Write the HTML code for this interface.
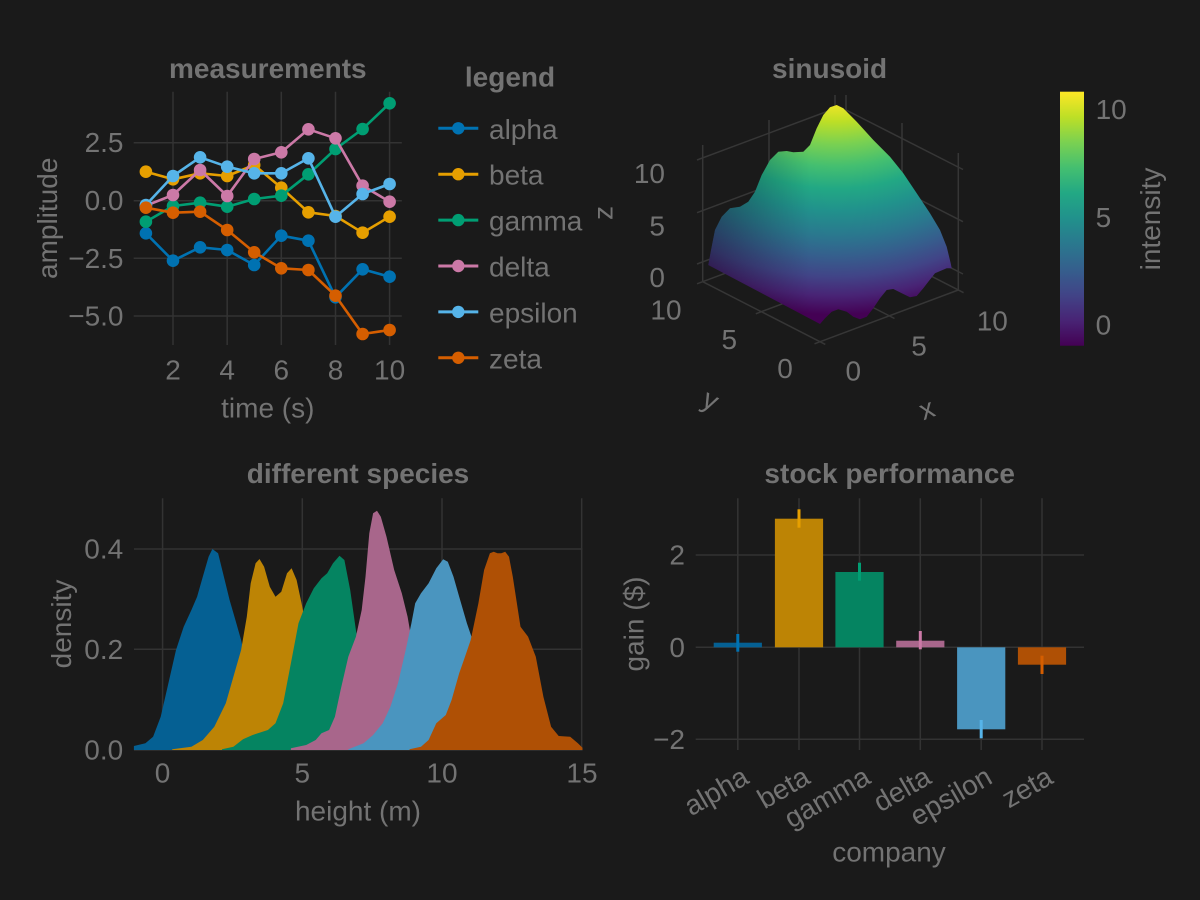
<!DOCTYPE html>
<html><head><meta charset="utf-8"><style>
html,body{margin:0;padding:0;background:#1a1a1a;}
svg{display:block}
text{font-family:"Liberation Sans",sans-serif;fill:#737373;font-size:28px}
.t{font-weight:bold}
</style></head><body>
<svg width="1200" height="900" viewBox="0 0 1200 900" xmlns="http://www.w3.org/2000/svg">
<defs>
<marker id="mb" markerUnits="userSpaceOnUse" markerWidth="14" markerHeight="14" refX="7" refY="7" viewBox="0 0 14 14"><circle cx="7" cy="7" r="6.3" fill="#0072B2"/></marker>
<marker id="mo" markerUnits="userSpaceOnUse" markerWidth="14" markerHeight="14" refX="7" refY="7" viewBox="0 0 14 14"><circle cx="7" cy="7" r="6.3" fill="#E69F00"/></marker>
<marker id="mg" markerUnits="userSpaceOnUse" markerWidth="14" markerHeight="14" refX="7" refY="7" viewBox="0 0 14 14"><circle cx="7" cy="7" r="6.3" fill="#009E73"/></marker>
<marker id="mp" markerUnits="userSpaceOnUse" markerWidth="14" markerHeight="14" refX="7" refY="7" viewBox="0 0 14 14"><circle cx="7" cy="7" r="6.3" fill="#CC79A7"/></marker>
<marker id="ms" markerUnits="userSpaceOnUse" markerWidth="14" markerHeight="14" refX="7" refY="7" viewBox="0 0 14 14"><circle cx="7" cy="7" r="6.3" fill="#56B4E9"/></marker>
<marker id="mv" markerUnits="userSpaceOnUse" markerWidth="14" markerHeight="14" refX="7" refY="7" viewBox="0 0 14 14"><circle cx="7" cy="7" r="6.3" fill="#D55E00"/></marker>
<radialGradient id="sg" gradientUnits="userSpaceOnUse" cx="835" cy="-20" r="345" fx="835" fy="-20">
<stop offset="0.345" stop-color="#fde725"/>
<stop offset="0.41" stop-color="#bddf26"/>
<stop offset="0.475" stop-color="#7ad151"/>
<stop offset="0.54" stop-color="#44bf70"/>
<stop offset="0.605" stop-color="#22a884"/>
<stop offset="0.67" stop-color="#21918c"/>
<stop offset="0.74" stop-color="#2a788e"/>
<stop offset="0.8" stop-color="#355f8d"/>
<stop offset="0.86" stop-color="#414487"/>
<stop offset="0.915" stop-color="#482475"/>
<stop offset="0.97" stop-color="#440154"/>
</radialGradient>
<linearGradient id="shade" gradientUnits="userSpaceOnUse" x1="705" y1="0" x2="810" y2="0">
<stop offset="0" stop-color="#000" stop-opacity="0.32"/>
<stop offset="1" stop-color="#000" stop-opacity="0"/>
</linearGradient>
<clipPath id="sclip">
<path d="M708.3,265 L711.7,246.7 L715,230 L721.7,216.7 L730,208.3 L740,206.7 L748.3,201.7 L755,191.7 L761.7,175 L770,160 L778.3,151.7 L786.7,151 L793.3,152.3 L803.3,151.7 L810,145 L816.7,128.3 L823.3,115 L830,107.3 L836.7,105 L843.3,108.3 L856.7,121.7 L873.3,140 L890,156.7 L903.3,173.3 L916.7,193.3 L930,213.3 L940,230 L946.7,246.7 L950.7,263.3 L951.7,268.3 L946.7,268.3 L935,273.3 L928.3,281.7 L923.3,288.3 L916.7,296 L910,297.3 L903.3,294 L893.3,289 L886.7,290 L880,298.3 L873.3,308.3 L866.7,316.7 L860,319.3 L853.3,316.7 L846.7,311.7 L838.3,309.3 L831.7,311.7 L825,318.3 L820,324 Z"/>
</clipPath>
<linearGradient id="cb" x1="0" y1="1" x2="0" y2="0">
<stop offset="0" stop-color="#440154"/>
<stop offset="0.1" stop-color="#482475"/>
<stop offset="0.2" stop-color="#414487"/>
<stop offset="0.3" stop-color="#355f8d"/>
<stop offset="0.4" stop-color="#2a788e"/>
<stop offset="0.5" stop-color="#21918c"/>
<stop offset="0.6" stop-color="#22a884"/>
<stop offset="0.7" stop-color="#44bf70"/>
<stop offset="0.8" stop-color="#7ad151"/>
<stop offset="0.9" stop-color="#bddf26"/>
<stop offset="1" stop-color="#fde725"/>
</linearGradient>
</defs>
<rect width="1200" height="900" fill="#1a1a1a"/>

<!-- ========== Panel 1: measurements ========== -->
<g stroke="#333" stroke-width="1.5">
<line x1="173" y1="91.7" x2="173" y2="345"/>
<line x1="227.2" y1="91.7" x2="227.2" y2="345"/>
<line x1="281.3" y1="91.7" x2="281.3" y2="345"/>
<line x1="335.5" y1="91.7" x2="335.5" y2="345"/>
<line x1="389.6" y1="91.7" x2="389.6" y2="345"/>
<line x1="133.7" y1="142.7" x2="401.8" y2="142.7"/>
<line x1="133.7" y1="200.7" x2="401.8" y2="200.7"/>
<line x1="133.7" y1="258.3" x2="401.8" y2="258.3"/>
<line x1="133.7" y1="316" x2="401.8" y2="316"/>
</g>
<g fill="none" stroke-width="2.6" stroke-linejoin="round">
<polyline stroke="#0072B2" marker-start="url(#mb)" marker-mid="url(#mb)" marker-end="url(#mb)" points="145.9,233.3 173,260.7 200.1,247.3 227.2,250 254.2,265 281.3,235.7 308.4,240.7 335.5,297.3 362.6,269.3 389.6,276.7"/>
<polyline stroke="#E69F00" marker-start="url(#mo)" marker-mid="url(#mo)" marker-end="url(#mo)" points="145.9,171.7 173,179.3 200.1,173.3 227.2,176 254.2,165 281.3,187.7 308.4,212.3 335.5,216 362.6,232.7 389.6,216.7"/>
<polyline stroke="#009E73" marker-start="url(#mg)" marker-mid="url(#mg)" marker-end="url(#mg)" points="145.9,221.7 173,206 200.1,202.7 227.2,206.7 254.2,199 281.3,195.7 308.4,174.3 335.5,149 362.6,129 389.6,103.3"/>
<polyline stroke="#CC79A7" marker-start="url(#mp)" marker-mid="url(#mp)" marker-end="url(#mp)" points="145.9,205.7 173,195 200.1,170 227.2,196 254.2,159 281.3,152.3 308.4,129.3 335.5,138.3 362.6,185.7 389.6,201.7"/>
<polyline stroke="#56B4E9" marker-start="url(#ms)" marker-mid="url(#ms)" marker-end="url(#ms)" points="145.9,205 173,176 200.1,157.3 227.2,166.7 254.2,173.3 281.3,173.3 308.4,158.3 335.5,216.7 362.6,194 389.6,184"/>
<polyline stroke="#D55E00" marker-start="url(#mv)" marker-mid="url(#mv)" marker-end="url(#mv)" points="145.9,207.7 173,212.7 200.1,211.7 227.2,230 254.2,252.3 281.3,268.3 308.4,270 335.5,295.7 362.6,334 389.6,330"/>
</g>
<g text-anchor="end" dominant-baseline="central">
<text x="123.5" y="142.7">2.5</text>
<text x="123.5" y="200.7">0.0</text>
<text x="123.5" y="258.3">−2.5</text>
<text x="123.5" y="316">−5.0</text>
</g>
<g text-anchor="middle" dominant-baseline="central">
<text x="173" y="370">2</text>
<text x="227.2" y="370">4</text>
<text x="281.3" y="370">6</text>
<text x="335.5" y="370">8</text>
<text x="389.6" y="370">10</text>
<text x="267.8" y="408">time (s)</text>
<text transform="translate(47.4,218.3) rotate(-90)" x="0" y="0">amplitude</text>
</g>
<text class="t" x="267.8" y="78" text-anchor="middle">measurements</text>

<!-- Legend -->
<text class="t" x="510" y="86.5" text-anchor="middle">legend</text>
<g stroke-width="3">
<line x1="438.3" y1="128.3" x2="478.3" y2="128.3" stroke="#0072B2"/>
<line x1="438.3" y1="174.2" x2="478.3" y2="174.2" stroke="#E69F00"/>
<line x1="438.3" y1="220.1" x2="478.3" y2="220.1" stroke="#009E73"/>
<line x1="438.3" y1="266" x2="478.3" y2="266" stroke="#CC79A7"/>
<line x1="438.3" y1="311.9" x2="478.3" y2="311.9" stroke="#56B4E9"/>
<line x1="438.3" y1="357.8" x2="478.3" y2="357.8" stroke="#D55E00"/>
</g>
<circle cx="458.3" cy="128.3" r="6.2" fill="#0072B2"/>
<circle cx="458.3" cy="174.2" r="6.2" fill="#E69F00"/>
<circle cx="458.3" cy="220.1" r="6.2" fill="#009E73"/>
<circle cx="458.3" cy="266" r="6.2" fill="#CC79A7"/>
<circle cx="458.3" cy="311.9" r="6.2" fill="#56B4E9"/>
<circle cx="458.3" cy="357.8" r="6.2" fill="#D55E00"/>
<g dominant-baseline="central">
<text x="489" y="129.3">alpha</text>
<text x="489" y="175.2">beta</text>
<text x="489" y="221.1">gamma</text>
<text x="489" y="267">delta</text>
<text x="489" y="312.9">epsilon</text>
<text x="489" y="358.8">zeta</text>
</g>

<!-- ========== Panel 2: sinusoid (3D) ========== -->
<text class="t" x="829.6" y="78" text-anchor="middle">sinusoid</text>
<g stroke="#363636" stroke-width="1.5" fill="none">
<line x1="702.7" y1="145" x2="702.7" y2="281.7"/>
<line x1="769" y1="120" x2="769" y2="257"/>
<line x1="835" y1="95" x2="835" y2="232"/>
<line x1="697" y1="160" x2="835" y2="108.5"/>
<line x1="697" y1="212.7" x2="835" y2="161"/>
<line x1="697" y1="264" x2="835" y2="212.5"/>
<line x1="846" y1="95" x2="846" y2="232"/>
<line x1="902" y1="123" x2="902" y2="262"/>
<line x1="958.3" y1="153" x2="958.3" y2="290"/>
<line x1="846" y1="110" x2="963" y2="169.5"/>
<line x1="846" y1="162" x2="963" y2="221.7"/>
<line x1="846" y1="214" x2="963" y2="274"/>
<line x1="814.5" y1="343.8" x2="958.3" y2="290"/>
<line x1="755.8" y1="313.8" x2="899.6" y2="260"/>
<line x1="697" y1="283.8" x2="841" y2="230"/>
<line x1="825.3" y1="344.4" x2="702.7" y2="281.7"/>
<line x1="894.5" y1="318.5" x2="771.9" y2="255.8"/>
<line x1="963.6" y1="292.7" x2="841" y2="230"/>
</g>
<g clip-path="url(#sclip)">
<rect x="690" y="95" width="280" height="240" fill="url(#sg)"/>
<rect x="690" y="95" width="280" height="240" fill="url(#shade)"/>
</g>
<g text-anchor="end" dominant-baseline="central">
<text x="665" y="173.3">10</text>
<text x="665" y="226">5</text>
<text x="665" y="277.3">0</text>
</g>
<g text-anchor="middle" dominant-baseline="central">
<text x="666" y="310">10</text>
<text x="729.3" y="339.3">5</text>
<text x="785" y="368.3">0</text>
<text x="853.3" y="371">0</text>
<text x="919" y="346">5</text>
<text x="992.3" y="321">10</text>
<text transform="translate(710.7,400) rotate(27)">y</text>
<text transform="translate(926.7,409) rotate(-20.6)">x</text>
<text transform="translate(603,213) rotate(-90)">z</text>
</g>
<rect x="1060" y="91.7" width="24" height="254" fill="url(#cb)"/>
<g dominant-baseline="central">
<text x="1095.6" y="109.3">10</text>
<text x="1095.6" y="217.3">5</text>
<text x="1095.6" y="325">0</text>
</g>
<text transform="translate(1150.6,219) rotate(-90)" text-anchor="middle" dominant-baseline="central">intensity</text>

<!-- ========== Panel 3: different species ========== -->
<text class="t" x="358" y="483" text-anchor="middle">different species</text>
<g stroke="#333" stroke-width="1.5">
<line x1="162.6" y1="498.3" x2="162.6" y2="750"/>
<line x1="302.3" y1="498.3" x2="302.3" y2="750"/>
<line x1="442" y1="498.3" x2="442" y2="750"/>
<line x1="581.7" y1="498.3" x2="581.7" y2="750"/>
<line x1="134" y1="549" x2="582.5" y2="549"/>
<line x1="134" y1="649.3" x2="582.5" y2="649.3"/>
<line x1="134" y1="750" x2="582.5" y2="750"/>
</g>
<g stroke="none">
<polygon fill="#056093" points="133.9,750 133.9,746 145.4,743.3 153.1,736.7 160.7,716.7 168.4,683.3 176,650 183.7,626.7 191.4,610 197.1,596.7 202.8,576.7 208.6,556.7 212.4,549 218.1,553.3 223.9,576.7 229.6,600 235.4,620 241.1,640 248.8,676.7 256.4,716.7 264.1,740 275.5,749.3 290.9,750"/>
<polygon fill="#BD8405" points="172.2,750 172.2,749.3 191.4,746.7 202.8,740 214.3,726.7 225.8,703.3 233.4,676.7 241.1,650 246.8,616.7 250.7,583.3 255.6,563.3 259.5,559 264.1,566.7 269.8,586.7 275.5,596.7 281.3,591.7 287,573.3 291.6,568.3 296.6,580 302.3,606.7 308.1,640 313.8,676.7 321.5,716.7 329.1,740 340.6,749.3 352.1,750"/>
<polygon fill="#058461" points="222,750 222,749.3 233.4,746.7 243,739.3 252.6,735 267.9,730 275.5,723.3 283.2,703.3 290.9,663.3 298.5,623.3 306.2,603.3 313.8,588.3 321.5,578.3 327.2,573.3 333,563.3 339.5,555.7 344.4,560 350.2,590 355.9,630 361.7,663.3 367.4,696.7 375,730 382.7,745 394.2,750"/>
<polygon fill="#A8668B" points="290.9,750 290.9,748.3 306.2,745 315.7,740 321.5,733.3 329.1,730 334.9,716.7 340.6,690 348.3,656.7 355.9,636.7 361.7,610 365.5,576.7 369.3,533.3 373.1,513.3 377,510.7 380.8,516.7 386.5,536.7 394.2,570 401.8,593.3 407.6,616.7 413.3,650 421,690 428.6,723.3 436.3,743.3 447.8,750"/>
<polygon fill="#4A95BF" points="348.3,750 348.3,749.3 363.6,743.3 373.1,735 382.7,723.3 390.4,706.7 398,683.3 405.7,650 411.4,623.3 415.2,603.3 421,593.3 428.6,583.3 436.3,568.3 443.2,559.3 447.8,561.7 453.5,576.7 459.2,596.7 466.9,623.3 472.6,640 480.3,666.7 487.9,703.3 495.6,733.3 505.2,748.3 516.6,750"/>
<polygon fill="#AF5005" points="409.5,750 409.5,749.3 421,746.7 428.6,740 436.3,723.3 445.8,715 451.6,700 459.2,673.3 465,656.7 470.7,640 478.4,603.3 484.1,570 489.9,553.3 493.7,551.7 497.5,553.3 501.3,553.3 505.2,551.7 509,556.7 512.8,576.7 520.5,626.7 528.1,636.7 535.8,656.7 543.4,696.7 551.1,726.7 558.7,736 570.2,736.7 577.9,743.3 582.5,747.7 582.5,750"/>
</g>
<g text-anchor="end" dominant-baseline="central">
<text x="123.2" y="549">0.4</text>
<text x="123.2" y="649.3">0.2</text>
<text x="123.2" y="750">0.0</text>
</g>
<g text-anchor="middle" dominant-baseline="central">
<text x="162.6" y="773">0</text>
<text x="302.3" y="773">5</text>
<text x="442" y="773">10</text>
<text x="582" y="773">15</text>
<text x="358" y="811">height (m)</text>
<text transform="translate(61.6,624) rotate(-90)">density</text>
</g>

<!-- ========== Panel 4: stock performance ========== -->
<text class="t" x="889.7" y="483" text-anchor="middle">stock performance</text>
<g stroke="#333" stroke-width="1.5">
<line x1="737.8" y1="498.3" x2="737.8" y2="750"/>
<line x1="799" y1="498.3" x2="799" y2="750"/>
<line x1="859.5" y1="498.3" x2="859.5" y2="750"/>
<line x1="920.3" y1="498.3" x2="920.3" y2="750"/>
<line x1="981.2" y1="498.3" x2="981.2" y2="750"/>
<line x1="1042" y1="498.3" x2="1042" y2="750"/>
<line x1="695.7" y1="555" x2="1084" y2="555"/>
<line x1="695.7" y1="647.3" x2="1084" y2="647.3"/>
<line x1="695.7" y1="739.3" x2="1084" y2="739.3"/>
</g>
<g>
<rect x="713.7" y="642.7" width="48.2" height="4.6" fill="#056093"/>
<rect x="774.9" y="518.7" width="48.2" height="128.6" fill="#BD8405"/>
<rect x="835.4" y="572" width="48.2" height="75.3" fill="#058461"/>
<rect x="896.2" y="640.7" width="48.2" height="6.6" fill="#A8668B"/>
<rect x="957.1" y="647.3" width="48.2" height="82" fill="#4A95BF"/>
<rect x="1017.9" y="647.3" width="48.2" height="17.4" fill="#AF5005"/>
</g>
<g stroke-width="3">
<line x1="737.8" y1="634" x2="737.8" y2="651.7" stroke="#0072B2"/>
<line x1="799" y1="509.3" x2="799" y2="527.7" stroke="#E69F00"/>
<line x1="859.5" y1="562.7" x2="859.5" y2="580.7" stroke="#009E73"/>
<line x1="920.3" y1="631" x2="920.3" y2="649.3" stroke="#CC79A7"/>
<line x1="981.2" y1="720" x2="981.2" y2="738.3" stroke="#56B4E9"/>
<line x1="1042" y1="655.7" x2="1042" y2="674" stroke="#D55E00"/>
</g>
<g text-anchor="end" dominant-baseline="central">
<text x="685" y="555">2</text>
<text x="685" y="647.3">0</text>
<text x="685" y="739.3">−2</text>
<text transform="translate(745.8,774) rotate(-30)">alpha</text>
<text transform="translate(807,774) rotate(-30)">beta</text>
<text transform="translate(867.5,774) rotate(-30)">gamma</text>
<text transform="translate(928.3,774) rotate(-30)">delta</text>
<text transform="translate(989.2,774) rotate(-30)">epsilon</text>
<text transform="translate(1050,774) rotate(-30)">zeta</text>
</g>
<g text-anchor="middle" dominant-baseline="central">
<text x="889" y="851.8">company</text>
<text transform="translate(634,624) rotate(-90)">gain ($)</text>
</g>
</svg>
</body></html>
